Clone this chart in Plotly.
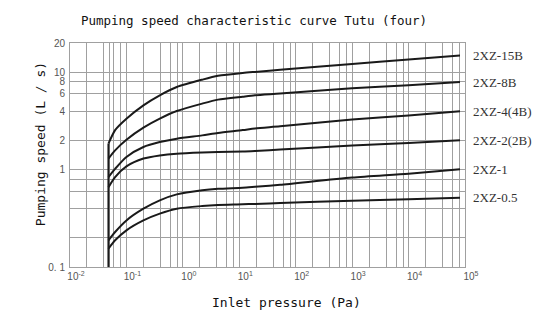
import math
import plotly.graph_objects as go

# Inlet pressure (Pa) sample points
pressure = [0.048, 0.063, 0.10, 0.20, 0.39, 0.78, 2.2, 4.2, 11.5, 19, 53, 1000, 10000, 81500]

# Pumping speed (L/s) for each model
s_15b = [1.85, 2.55, 3.34, 4.58, 5.8, 7.06, 8.4, 9.2, 9.85, 10.1, 10.6, 12.2, 13.5, 14.9]
s_8b = [1.30, 1.58, 2.03, 2.70, 3.34, 4.0, 4.77, 5.24, 5.62, 5.80, 6.04, 6.85, 7.35, 7.95]
s_4b = [0.84, 1.02, 1.35, 1.71, 1.92, 2.08, 2.25, 2.38, 2.55, 2.65, 2.79, 3.28, 3.6, 3.97]
s_2b = [0.66, 0.84, 1.08, 1.30, 1.40, 1.46, 1.50, 1.515, 1.535, 1.555, 1.61, 1.77, 1.88, 2.0]
s_1 = [0.188, 0.229, 0.301, 0.397, 0.484, 0.557, 0.613, 0.635, 0.652, 0.667, 0.70, 0.83, 0.91, 1.01]
s_05 = [0.154, 0.188, 0.238, 0.301, 0.353, 0.397, 0.423, 0.433, 0.44, 0.445, 0.454, 0.48, 0.497, 0.515]

series_names = ["2XZ-15B", "2XZ-8B", "2XZ-4(4B)", "2XZ-2(2B)", "2XZ-1", "2XZ-0.5"]
series_vals = [s_15b, s_8b, s_4b, s_2b, s_1, s_05]

# Start line (vertical) at the lowest inlet pressure
start_x = [0.048, 0.048]
start_y = [0.1, 1.85]

x_tickvals = [1e-2, 1e-1, 1e0, 1e1, 1e2, 1e3, 1e4, 1e5]
x_ticktext = ["10<sup>-2</sup>", "10<sup>-1</sup>", "10<sup>0</sup>", "10<sup>1</sup>",
              "10<sup>2</sup>", "10<sup>3</sup>", "10<sup>4</sup>", "10<sup>5</sup>"]
y_tickvals = [0.1, 1, 2, 4, 6, 8, 10, 20]
y_ticktext = ["0. 1", "1", "2", "4", "6", "8", "10", "20"]
y_minor = [0.2, 0.4, 0.6, 0.8]
x_minor = [2e-2, 4e-2, 5e-2, 6e-2, 8e-2]
for e in range(-1, 5):
    for m in (2, 4, 6, 8):
        x_minor.append(m * 10 ** e)

fig = go.Figure()
line_col = "#1a1a1a"
for name, vals in zip(series_names, series_vals):
    fig.add_trace(go.Scatter(x=pressure, y=vals, mode="lines", name=name,
                             line=dict(color=line_col, width=2, shape="spline", smoothing=0.7)))
fig.add_trace(go.Scatter(x=start_x, y=start_y, mode="lines",
                         line=dict(color=line_col, width=2)))

grid = "#a0a0a0"
fig.update_layout(
    width=555, height=322,
    margin=dict(l=70, r=90, t=43, b=55),
    paper_bgcolor="white", plot_bgcolor="white",
    showlegend=False,
    title=dict(text="Pumping speed characteristic curve Tutu (four)",
               x=254 / 555, xanchor="center", y=1 - 21 / 322, yanchor="middle",
               font=dict(family="DejaVu Sans Mono", size=12.5, color="#111")),
    xaxis=dict(type="log", range=[-2, 5], tickvals=x_tickvals, ticktext=x_ticktext,
               showgrid=True, gridcolor=grid, gridwidth=1, ticks="",
               showline=True, linecolor=grid, linewidth=1, mirror=True,
               zeroline=False, ticklabelshift=6,
               tickfont=dict(family="Liberation Sans", size=10, color="#555"),
               minor=dict(tickmode="array", tickvals=x_minor, showgrid=True,
                          gridcolor=grid, gridwidth=1, ticks="")),
    yaxis=dict(type="log", range=[-1, math.log10(20)], tickvals=y_tickvals, ticktext=y_ticktext,
               showgrid=True, gridcolor=grid, gridwidth=1, ticks="",
               showline=True, linecolor=grid, linewidth=1, mirror=True,
               zeroline=False, ticklabelstandoff=2,
               tickfont=dict(family="Liberation Sans", size=10, color="#555"),
               minor=dict(tickmode="array", tickvals=y_minor, showgrid=True,
                          gridcolor=grid, gridwidth=1, ticks="")),
)

annotations = []
for name, vals in zip(series_names, series_vals):
    annotations.append(dict(x=1, xref="paper", xshift=6, xanchor="left",
                            y=math.log10(vals[-1]), yref="y", yanchor="middle",
                            text=name, showarrow=False,
                            font=dict(family="Liberation Serif", size=13, color="#333")))
annotations.append(dict(x=(40 - 70) / 395, xref="paper", y=(266.6 - 144) / 223.6, yref="paper",
                        xanchor="center", yanchor="middle", textangle=-90,
                        text="Pumping speed (L / s)", showarrow=False,
                        font=dict(family="DejaVu Sans Mono", size=13, color="#111")))
annotations.append(dict(x=(286.7 - 70) / 395, xref="paper", y=(266.6 - 302) / 223.6, yref="paper",
                        xanchor="center", yanchor="middle",
                        text="Inlet pressure (Pa)", showarrow=False,
                        font=dict(family="DejaVu Sans Mono", size=13, color="#111")))
fig.update_layout(annotations=annotations)

fig.write_html("out.html")
